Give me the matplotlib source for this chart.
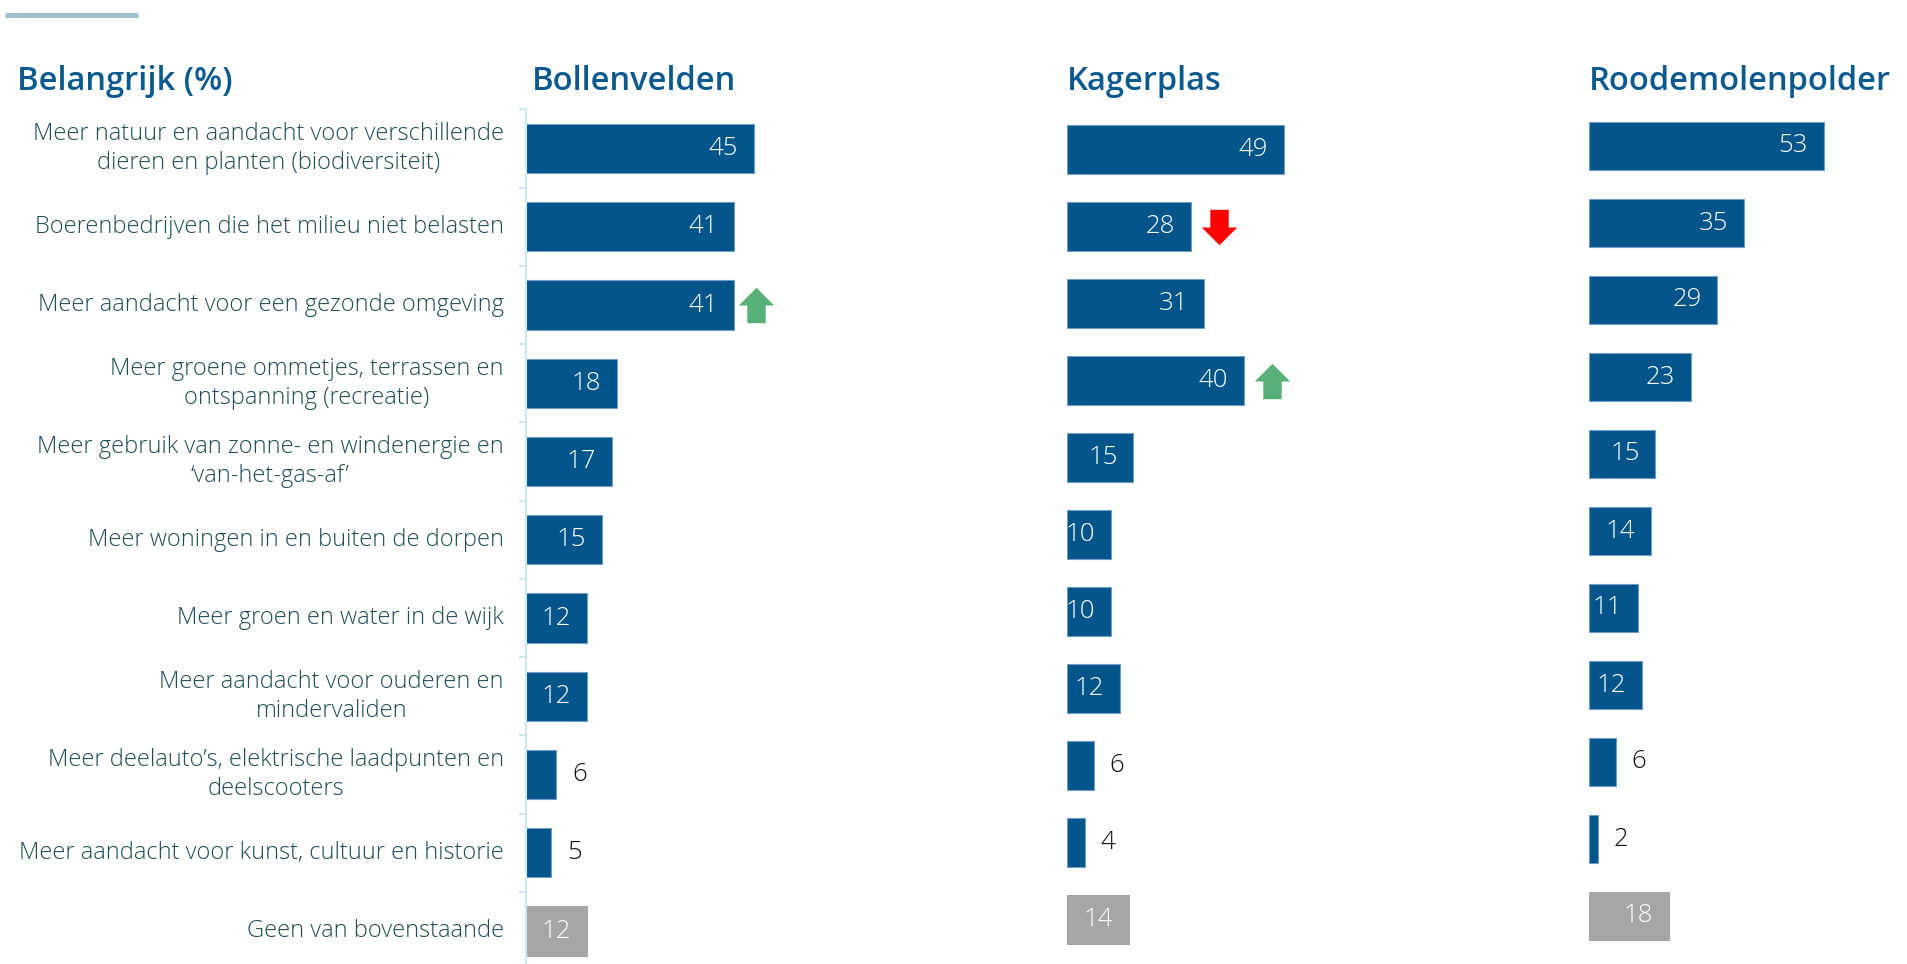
import matplotlib
matplotlib.use('Agg')
import matplotlib.pyplot as plt
from matplotlib.path import Path
from matplotlib.lines import Line2D
import matplotlib.transforms as mtransforms

# Gegevens
categories = [
    'Meer natuur en aandacht voor verschillende\ndieren en planten (biodiversiteit)',
    'Boerenbedrijven die het milieu niet belasten',
    'Meer aandacht voor een gezonde omgeving',
    'Meer groene ommetjes, terrassen en\nontspanning (recreatie)',
    'Meer gebruik van zonne- en windenergie en\n\u2018van-het-gas-af\u2019',
    'Meer woningen in en buiten de dorpen',
    'Meer groen en water in de wijk',
    'Meer aandacht voor ouderen en\nmindervaliden',
    'Meer deelauto\u2019s, elektrische laadpunten en\ndeelscooters',
    'Meer aandacht voor kunst, cultuur en historie',
    'Geen van bovenstaande',
]
areas = ['Bollenvelden', 'Kagerplas', 'Roodemolenpolder']
bollenvelden = [45, 41, 41, 18, 17, 15, 12, 12, 6, 5, 12]
kagerplas = [49, 28, 31, 40, 15, 10, 10, 12, 6, 4, 14]
roodemolenpolder = [53, 35, 29, 23, 15, 14, 11, 12, 6, 2, 18]
# significante verschuivingen: (rij, richting)
changes_bollenvelden = [(2, 'up')]
changes_kagerplas = [(1, 'down'), (3, 'up')]
changes_roodemolenpolder = []

title = 'Belangrijk (%)'

BLUE = '#01558a'
GREY = '#a6a6a6'
TXT = '#1e4d56'
HEAD = '#0b5a8f'
GREEN = '#56b077'
RED = '#ff0000'

plt.rcParams['font.family'] = ['Open Sans', 'DejaVu Sans']

W, H = 1908, 964
fig = plt.figure(figsize=(W / 100, H / 100), dpi=100)

# opmaak per paneel in pixels: links, breedte, px per eenheid, midden rij 0, rijafstand, pijl-afstand
layout = [
    (526, 330, 5.07, 148.5, 78.25, 22),
    (1067, 420, 4.43, 149.5, 77.0, 28),
    (1589, 319, 4.43, 146.0, 77.0, 25),
]

up_arrow = Path([(-0.26, -0.5), (-0.26, 0.0), (-0.5, 0.0), (0.0, 0.5),
                 (0.5, 0.0), (0.26, 0.0), (0.26, -0.5), (-0.26, -0.5)])
down_arrow = Path([(x, -y) for x, y in up_arrow.vertices])

series = [bollenvelden, kagerplas, roodemolenpolder]
changes = [changes_bollenvelden, changes_kagerplas, changes_roodemolenpolder]
n = len(categories)

axes = []
for k, (left, width, ppu, row0, step, gap) in enumerate(layout):
    top = row0 - step / 2
    bottom = min(H, row0 + (n - 0.5) * step)
    ax = fig.add_axes([left / W, 1 - bottom / H, width / W, (bottom - top) / H])
    ax.set_xlim(0, width / ppu)
    ax.set_ylim((bottom - row0) / step, -0.5)
    ax.set_facecolor('none')
    for s in ['top', 'right', 'bottom']:
        ax.spines[s].set_visible(False)
    ax.set_xticks([])
    if k == 0:
        ax.spines['left'].set_color('#cdeaf0')
        ax.spines['left'].set_linewidth(1.5)
        ax.set_yticks([i - 0.5 for i in range(n)])
        ax.tick_params(axis='y', length=5, width=1.5, color='#cdeaf0', labelleft=False)
    else:
        ax.spines['left'].set_visible(False)
        ax.set_yticks([])

    vals = series[k]
    colors = [BLUE] * (n - 1) + [GREY]
    edges = ['#6f9cc2'] * (n - 1) + [GREY]
    ax.barh(range(n), vals, height=0.63, color=colors, edgecolor=edges, linewidth=0.8)

    for i, v in enumerate(vals):
        if v >= 10:
            ax.annotate(str(v), (v, i), xytext=(-11.5, 0), textcoords='offset points',
                        ha='right', va='center', color='white', fontsize=18.5, fontweight=300)
        else:
            ax.annotate(str(v), (v, i), xytext=(11.5, 0), textcoords='offset points',
                        ha='left', va='center', color='#111111', fontsize=18.5, fontweight=300)

    shift = mtransforms.ScaledTranslation(gap / 100, 0, fig.dpi_scale_trans)
    for i, d in changes[k]:
        ax.plot([vals[i]], [i], linestyle='none',
                marker=up_arrow if d == 'up' else down_arrow, markersize=25.5,
                markeredgewidth=0, color=GREEN if d == 'up' else RED,
                transform=ax.transData + shift, clip_on=False)

    fig.text((left + (6 if k == 0 else 0)) / W, 1 - 90 / H, areas[k], ha='left',
             va='baseline', fontsize=23.5, fontweight='semibold', color=HEAD)
    axes.append(ax)

# categorielabels links
for i, c in enumerate(categories):
    axes[0].annotate(c, (0, i), xycoords=('axes fraction', 'data'), xytext=(-16, 0),
                     textcoords='offset points', ha='right', va='center', ma='center',
                     fontsize=17, fontweight=300, color=TXT, linespacing=1.25)

fig.text(17 / W, 1 - 90 / H, title, ha='left', va='baseline', fontsize=23.5,
         fontweight='semibold', color=HEAD)
fig.add_artist(Line2D([5 / W, 138 / W], [1 - 15 / H, 1 - 15 / H], color='#9fc0c8',
                      linewidth=3.6, solid_capstyle='butt'))

fig.savefig('out.png', dpi=100)
